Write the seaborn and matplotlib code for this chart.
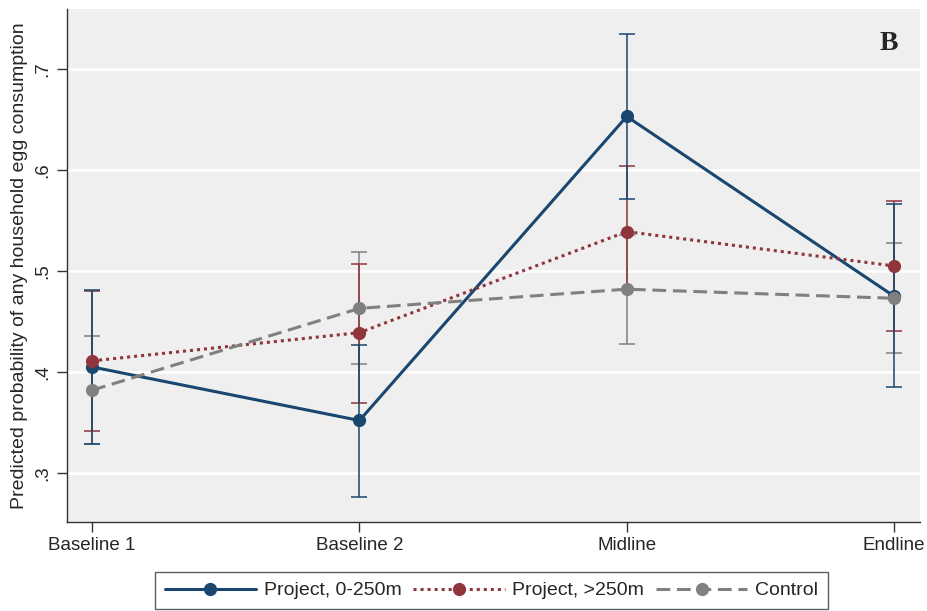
import numpy as np
import pandas as pd
import matplotlib
matplotlib.use("Agg")
import matplotlib.pyplot as plt
import seaborn as sns

waves = ["Baseline 1", "Baseline 2", "Midline", "Endline"]
groups = ["Project, 0-250m", "Project, >250m", "Control"]

near_est = [0.405, 0.352, 0.653, 0.475]
near_lo = [0.329, 0.276, 0.571, 0.385]
near_hi = [0.481, 0.427, 0.735, 0.566]

far_est = [0.411, 0.439, 0.539, 0.505]
far_lo = [0.342, 0.369, 0.481, 0.441]
far_hi = [0.480, 0.507, 0.604, 0.569]

ctrl_est = [0.382, 0.463, 0.482, 0.473]
ctrl_lo = [0.329, 0.408, 0.428, 0.419]
ctrl_hi = [0.436, 0.519, 0.536, 0.528]

yticks = [0.3, 0.4, 0.5, 0.6, 0.7]
ytick_labels = [".3", ".4", ".5", ".6", ".7"]

colors = {"Project, 0-250m": "#1a476f", "Project, >250m": "#90353b", "Control": "#808080"}
dashes = {"Project, 0-250m": "", "Project, >250m": (1, 1.3), "Control": (4.5, 2.2)}

rows = []
for g, est, lo, hi in zip(groups, [near_est, far_est, ctrl_est],
                          [near_lo, far_lo, ctrl_lo], [near_hi, far_hi, ctrl_hi]):
    for i, w in enumerate(waves):
        rows.append({"group": g, "x": i, "est": est[i], "lo": lo[i], "hi": hi[i]})
df = pd.DataFrame(rows)

sns.set_style("white")
plt.rcParams["font.family"] = ["Liberation Sans", "DejaVu Sans"]

fig = plt.figure(figsize=(9.27, 6.11), dpi=100)
ax = fig.add_axes([67 / 927, 1 - 522 / 611, (920 - 67) / 927, (522 - 9) / 611])
ax.set_facecolor("#efefef")

# confidence intervals first, lines on top
for g in groups[::-1]:
    d = df[df.group == g]
    ax.errorbar(d.x, d.est, yerr=[d.est - d.lo, d.hi - d.est], fmt="none",
                ecolor=colors[g], elinewidth=1.3, capsize=6, capthick=1.3, alpha=0.85, zorder=2)

sns.lineplot(data=df, x="x", y="est", hue="group", style="group", hue_order=groups,
             style_order=groups, palette=colors, dashes=dashes,
             markers={g: "o" for g in groups}, markersize=9.5, markeredgewidth=0,
             linewidth=2.2, ax=ax, zorder=3)

handles, labels = ax.get_legend_handles_labels()
ax.get_legend().remove()

ax.set_xlim(-0.094, 3.097)
ax.set_ylim(0.2515, 0.7594)
ax.set_xticks(range(len(waves)))
ax.set_xticklabels(waves, fontsize=13.5)
ax.set_yticks(yticks)
ax.set_yticklabels(ytick_labels, fontsize=13.5, rotation=90, va="center")
ax.grid(axis="y", color="white", linewidth=1.8)
ax.set_axisbelow(True)
ax.set_xlabel("")
ax.set_ylabel("Predicted probability of any household egg consumption", fontsize=14, labelpad=5)
ax.tick_params(axis="both", direction="out", length=7, width=1, color="#333333",
               left=True, bottom=True, pad=4)
for s in ["top", "right"]:
    ax.spines[s].set_visible(False)
for s in ["left", "bottom"]:
    ax.spines[s].set_color("#333333")
    ax.spines[s].set_linewidth(1)

ax.text(0.974, 0.933, "B", transform=ax.transAxes, fontsize=20, fontweight="bold",
        family="Liberation Serif", ha="right", va="center")

leg = fig.legend(handles, labels, loc="upper center", bbox_to_anchor=(0.530, 1 - 572 / 611),
                 ncol=3, frameon=True, fontsize=14, handlelength=4.7, columnspacing=0.6,
                 handletextpad=0.4, borderpad=0.5, borderaxespad=0, fancybox=False)
leg.get_frame().set_edgecolor("#333333")
leg.get_frame().set_linewidth(1)

fig.savefig("out.png", dpi=100)
